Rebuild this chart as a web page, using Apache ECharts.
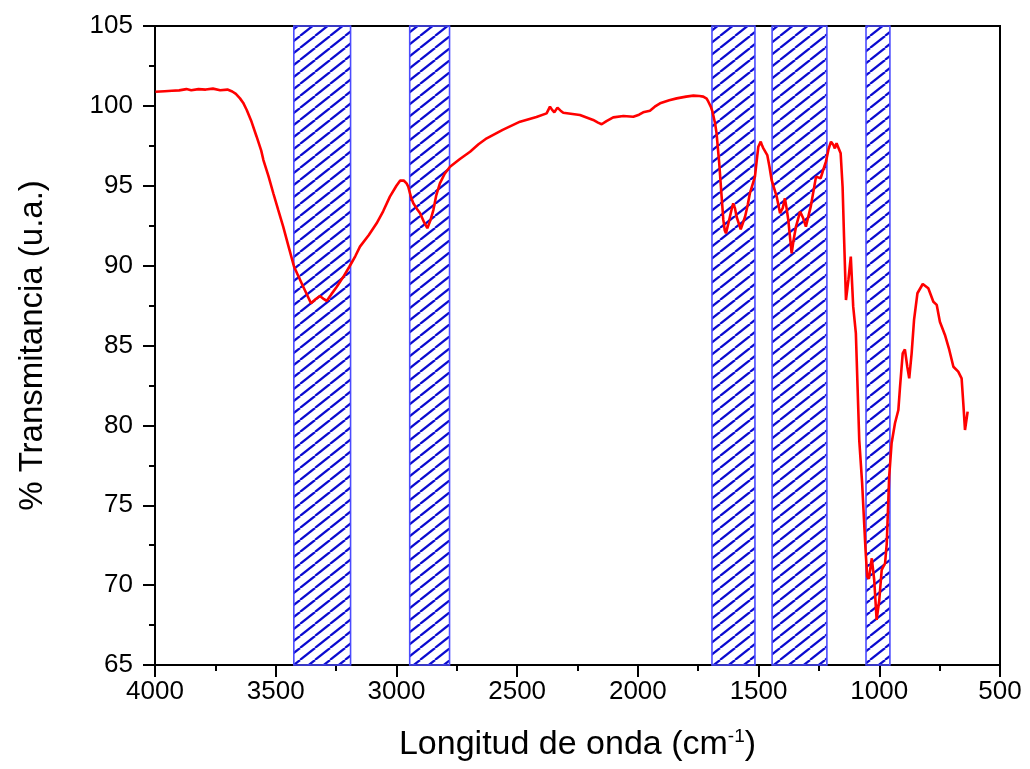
<!DOCTYPE html>
<html>
<head>
<meta charset="utf-8">
<script src="https://cdn.jsdelivr.net/npm/echarts@6/dist/echarts.min.js"></script>
<style>
  html, body { margin: 0; padding: 0; background: #fff; }
  #chart { width: 1030px; height: 769px; }
</style>
</head>
<body>
<div id="chart"></div>
<script>
// FTIR spectrum: wavenumber (cm-1) and % transmittance
const wavenumbers = [
  3998, 3960, 3930, 3900, 3870, 3850, 3820, 3790, 3760, 3730, 3700, 3680, 3665, 3648, 3635, 3620,
  3600, 3579, 3560, 3551, 3530, 3510, 3490, 3469, 3445, 3424, 3405, 3386, 3365, 3354, 3335, 3317,
  3300, 3289, 3270, 3247, 3220, 3195, 3170, 3151, 3115, 3082, 3055, 3027, 3000, 2985, 2970, 2958,
  2951, 2940, 2930, 2915, 2902, 2885, 2872, 2860, 2847, 2835, 2820, 2800, 2778, 2737, 2695, 2660,
  2626, 2560, 2488, 2420, 2378, 2364, 2355, 2346, 2333, 2320, 2309, 2240, 2185, 2165, 2150, 2130,
  2102, 2060, 2019, 1995, 1978, 1950, 1930, 1908, 1870, 1839, 1800, 1770, 1745, 1729, 1715, 1708,
  1698, 1691, 1680, 1674, 1663, 1653, 1646, 1640, 1635, 1625, 1612, 1605, 1598, 1591, 1574, 1556,
  1545, 1536, 1515, 1506, 1501, 1491, 1485, 1480, 1464, 1455, 1446, 1425, 1411, 1400, 1391, 1384,
  1377, 1363, 1355, 1345, 1328, 1316, 1304, 1284, 1262, 1243, 1232, 1221, 1210, 1200, 1190, 1184,
  1177, 1170, 1160, 1152, 1146, 1138, 1128, 1118, 1108, 1097, 1090, 1083, 1071, 1057, 1050, 1043,
  1031, 1021, 1011, 1000, 990, 976, 969, 959, 949, 935, 921, 914, 903, 894, 884, 876,
  866, 856, 842, 820, 797, 776, 762, 749, 728, 710, 693, 673, 659, 652, 645, 634
];
const transmittance = [
  100.88, 100.92, 100.95, 100.97, 101.05, 100.98, 101.05, 101.02, 101.08, 100.98, 101.02, 100.90, 100.75, 100.47, 100.20, 99.74,
  99.00, 98.07, 97.20, 96.61, 95.60, 94.53, 93.50, 92.44, 91.10, 89.93, 89.30, 88.68, 88.00, 87.64, 87.90, 88.10,
  87.90, 87.79, 88.20, 88.68, 89.30, 89.93, 90.60, 91.19, 91.90, 92.65, 93.40, 94.32, 95.00, 95.32, 95.33, 95.15,
  94.94, 94.30, 93.90, 93.55, 93.28, 92.70, 92.34, 92.80, 93.48, 94.40, 95.15, 95.75, 96.19, 96.67, 97.13, 97.60,
  97.97, 98.50, 99.01, 99.30, 99.53, 99.95, 99.75, 99.60, 99.89, 99.70, 99.57, 99.43, 99.12, 98.95, 98.85, 99.05,
  99.28, 99.37, 99.32, 99.45, 99.60, 99.70, 99.95, 100.16, 100.35, 100.47, 100.58, 100.64, 100.62, 100.58, 100.45, 100.26,
  99.95, 99.64, 98.90, 98.28, 96.41, 94.32, 92.86, 92.20, 92.02, 92.65, 93.50, 93.90, 93.60, 93.06, 92.27, 93.06,
  93.80, 94.53, 95.57, 96.80, 97.44, 97.76, 97.50, 97.34, 96.92, 96.20, 95.36, 94.32, 93.28, 93.60, 94.21, 93.60,
  92.86, 90.77, 91.60, 92.44, 93.38, 93.00, 92.44, 93.69, 95.57, 95.47, 96.00, 96.51, 97.30, 97.76, 97.55, 97.34,
  97.66, 97.66, 97.03, 94.94, 91.81, 87.85, 89.10, 90.56, 87.43, 85.76, 82.42, 79.08, 76.37, 72.20, 70.53, 70.40,
  71.68, 70.32, 67.82, 69.07, 70.95, 71.37, 72.62, 76.79, 78.88, 80.13, 80.96, 82.42, 84.51, 84.76, 83.67, 82.94,
  84.51, 86.60, 88.27, 88.85, 88.58, 87.74, 87.54, 86.49, 85.66, 84.72, 83.67, 83.36, 82.94, 81.38, 79.71, 80.86
];

// Highlighted absorption bands (start / end wavenumber)
const bandStart = [3425, 2945, 1693, 1444, 1055];
const bandEnd   = [3190, 2780, 1515, 1217, 956];

// Axis settings
const xMin = 500, xMax = 4000, xStep = 500;
const yMin = 65, yMax = 105, yStep = 5;

const xAxisTitle = '{n|Longitud de onda (cm}{s|-1}{n|)}';
const yAxisTitle = '% Transmitancia (u.a.)';

// Diagonal hatch tile used to fill the bands
function makeHatch() {
  const w = 15, h = 12;
  const c = document.createElement('canvas');
  c.width = w; c.height = h;
  const ctx = c.getContext('2d');
  ctx.strokeStyle = '#0a0ad0';
  ctx.lineWidth = 2.2;
  for (const dx of [-w, 0, w]) {
    ctx.beginPath();
    ctx.moveTo(dx, h);
    ctx.lineTo(dx + w, 0);
    ctx.stroke();
  }
  return c;
}

const seriesData = wavenumbers.map((w, i) => [w, transmittance[i]]);
const bandAreas = bandStart.map((s, i) => [
  { xAxis: s, yAxis: yMin },
  { xAxis: bandEnd[i], yAxis: yMax }
]);

const chart = echarts.init(document.getElementById('chart'), null, { renderer: 'canvas' });
const font = '"Liberation Sans", Arial, sans-serif';

chart.setOption({
  backgroundColor: '#ffffff',
  animation: false,
  grid: {
    left: 155, right: 30, top: 26, bottom: 104,
    show: true, borderColor: '#000', borderWidth: 2, backgroundColor: 'transparent'
  },
  xAxis: {
    type: 'value',
    min: xMin, max: xMax, interval: xStep,
    inverse: true,
    name: xAxisTitle,
    nameLocation: 'middle',
    nameGap: 62,
    nameTextStyle: {
      rich: {
        n: { fontFamily: font, fontSize: 34, color: '#000' },
        s: { fontFamily: font, fontSize: 19, color: '#000', padding: [0, 0, 17, 0] }
      }
    },
    axisLine: { show: true, onZero: false, lineStyle: { color: '#000', width: 2 } },
    axisTick: { show: true, inside: false, length: 12, lineStyle: { color: '#000', width: 2 } },
    minorTick: { show: true, splitNumber: 2, length: 6, lineStyle: { color: '#000', width: 2 } },
    splitLine: { show: false },
    axisLabel: {
      fontFamily: font, fontSize: 26, color: '#000', margin: 14,
      formatter: v => String(v)
    }
  },
  yAxis: {
    type: 'value',
    min: yMin, max: yMax, interval: yStep,
    name: yAxisTitle,
    nameLocation: 'middle',
    nameGap: 106,
    nameTextStyle: { fontFamily: font, fontSize: 33, color: '#000' },
    axisLine: { show: true, onZero: false, lineStyle: { color: '#000', width: 2 } },
    axisTick: { show: true, inside: false, length: 12, lineStyle: { color: '#000', width: 2 } },
    minorTick: { show: true, splitNumber: 2, length: 6, lineStyle: { color: '#000', width: 2 } },
    splitLine: { show: false },
    axisLabel: { fontFamily: font, fontSize: 26, color: '#000', margin: 22 }
  },
  series: [{
    type: 'line',
    data: seriesData,
    showSymbol: false,
    symbol: 'none',
    lineStyle: { color: '#ff0000', width: 2.6 },
    z: 3,
    markArea: {
      silent: true,
      itemStyle: {
        color: { image: makeHatch(), repeat: 'repeat' },
        borderColor: '#4b4bff',
        borderWidth: 1.6
      },
      data: bandAreas
    }
  }]
});
</script>
</body>
</html>
